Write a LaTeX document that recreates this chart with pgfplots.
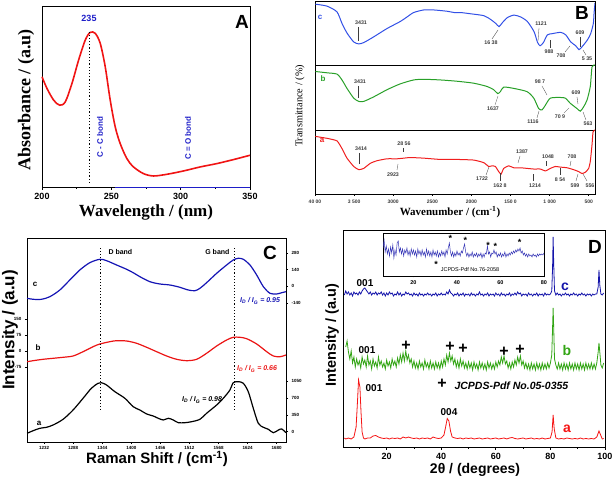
\documentclass[border=0pt]{standalone}
\usepackage{fontspec}
\setmainfont{Liberation Sans}
\newfontfamily\tnr{Liberation Serif}
\usepackage{pgfplots}
\pgfplotsset{compat=1.18}
\newcommand{\fs}[1]{\fontsize{#1}{#1}\selectfont}
\definecolor{uvred}{RGB}{240,20,20}
\definecolor{txtblue}{RGB}{30,30,200}
\definecolor{irblue}{RGB}{50,80,230}
\definecolor{irgreen}{RGB}{40,160,40}
\definecolor{irred}{RGB}{240,30,30}
\definecolor{rblue}{RGB}{20,20,180}
\definecolor{rred}{RGB}{235,20,20}
\definecolor{xblue}{RGB}{20,20,170}
\definecolor{xgreen}{RGB}{50,165,20}
\definecolor{xred}{RGB}{245,20,20}
\definecolor{lblgray}{RGB}{60,60,60}
\begin{document}
\begin{tikzpicture}[x=1pt,y=1pt]
\path[use as bounding box] (0,0) rectangle (614,479);
\pgfplotsset{every axis/.append style={scale only axis, anchor=south west, axis line style={line width=0.9pt}, tick style={line width=0.7pt, black}}}
\tikzset{bl/.style={font=\bfseries\fs{5.3}, text=lblgray, inner sep=0pt},
         ld/.style={lblgray, line width=0.3pt}}

% ================= Panel A =================
\begin{axis}[at={(42pt,292pt)}, width=208pt, height=181pt,
  xmin=200, xmax=350, ymin=0, ymax=542,
  xtick={200,250,300,350}, xticklabels={200,250,300,350},
  minor xtick={225,275,325}, ytick=\empty, xtick pos=bottom,
  tick align=outside, major tick length=3pt, minor tick length=2pt,
  xticklabel style={font=\bfseries\fs{9}}, clip=false]
\addplot[uvred, line width=1.6pt, smooth] coordinates {
(200,330) (203.6,295) (208.4,260) (212.7,245) (216.8,255) (221.6,310) (226.4,380) (231.2,440) (234.8,463) (238.4,460) (242,430) (245.6,360) (249.2,260) (252.8,180) (256.4,130) (261.2,85) (266,60) (273.2,40) (280.4,33) (290,38) (302,48) (314,60) (326,70) (338,82) (350,95)};
\draw[black, dotted, line width=1.2pt] (axis cs:234,12) -- (axis cs:234,463);
\draw[txtblue, line width=0.6pt] (axis cs:253,0) -- (axis cs:350,0);
\end{axis}
\node[txtblue, font=\bfseries\fs{9}] at (89,461) {235};
\node[txtblue, font=\bfseries\fs{8}, rotate=90] at (100,342) {C - C bond};
\node[txtblue, font=\bfseries\fs{8}, rotate=90] at (188,341) {C = O bond};
\node[font=\bfseries\fs{19}] at (242,457) {A};
\node[font=\tnr\bfseries\fs{17}, inner sep=0pt] at (146,267) {Wavelength / (nm)};
\node[font=\tnr\bfseries\fs{18}, rotate=90, inner sep=0pt] at (26,379) {Absorbance / (a.u)};

% ================= Panel B =================
\pgfplotsset{irax/.style={width=280pt, xmin=420, xmax=4000, x dir=reverse, ymin=0, ymax=100,
  xtick=\empty, ytick=\empty, axis line style={line width=0.8pt}}}
\begin{axis}[irax, at={(315pt,414pt)}, height=64pt]
\addplot[irblue, line width=1pt, smooth, tension=0.4] coordinates {
(3996,95) (3847,92) (3719,83) (3655,65) (3591,50) (3505,36) (3441,33) (3377,35) (3249,44) (3079,57) (2909,68) (2824,75) (2738,82) (2610,86) (2482,86) (2312,84) (2222,82) (2142,82) (2009,80) (1839,77) (1753,71) (1689,65) (1647,60) (1605,66) (1541,74) (1455,78) (1370,75) (1285,68) (1199,52) (1157,36) (1123,30) (1080,35) (1029,47) (965,49) (858,51) (794,47) (730,36) (666,30) (624,24) (582,29) (518,39) (475,49) (441,65) (432,81) (420,97)};
\end{axis}
\begin{axis}[irax, at={(315pt,349pt)}, height=65pt]
\addplot[irgreen, line width=1pt, smooth, tension=0.4] coordinates {
(3996,90) (3847,88) (3719,86) (3655,77) (3591,64) (3505,49) (3441,44) (3377,44) (3249,51) (3079,62) (2909,71) (2738,77) (2610,78) (2397,77) (2184,75) (1971,72) (1801,67) (1715,62) (1664,56) (1630,59) (1587,66) (1459,64) (1289,59) (1203,49) (1140,33) (1097,31) (1055,38) (991,49) (863,50) (799,49) (735,41) (650,33) (607,29) (564,36) (522,46) (480,67) (458,97) (420,100)};
\end{axis}
\begin{axis}[irax, at={(315pt,285pt)}, height=64pt,
  xtick={4000,3500,3000,2500,2000,1500,1000,500},
  xticklabels={40 00,3 500,3000,2500,2000,150 0,1 000,500},
  xtick pos=bottom, tick align=outside, major tick length=2pt,
  xticklabel style={font=\bfseries\fs{5}, text=lblgray}]
\addplot[irred, line width=1pt, smooth, tension=0.3] coordinates {
(3996,90) (3847,87) (3719,83) (3655,71) (3591,56) (3505,43) (3441,38) (3377,40) (3292,48) (3207,52) (3079,55) (2951,55) (2866,56) (2781,57) (2610,56) (2397,54) (2184,54) (1971,53) (1843,49) (1779,43) (1737,44) (1694,43) (1651,35) (1621,31) (1587,40) (1523,44) (1459,41) (1374,41) (1289,40) (1203,39) (1118,39) (1055,36) (991,40) (927,43) (863,42) (778,41) (693,38) (629,35) (586,32) (543,34) (501,40) (480,51) (458,77) (445,97) (420,100)};
\end{axis}
% labels c
\node[irblue, font=\bfseries\fs{8}] at (320,462) {c};
\node[bl] at (361,456) {3431}; \draw[ld] (358,452) -- (358,438);
\node[bl] at (491,436) {16 38}; \draw[ld] (492,440) -- (498,449);
\node[bl] at (541,455) {1121}; \draw[ld] (539,451) -- (538,438);
\node[bl] at (549,427) {988}; \draw[ld] (550,431) -- (550,439);
\node[bl] at (561,423) {708}; \draw[ld] (565,427) -- (570,433);
\node[bl] at (580,446) {609}; \draw[ld] (580,442) -- (580,432);
\node[bl] at (587,420) {5 35}; \draw[ld] (586,424) -- (583,429);
% labels b
\node[irgreen, font=\bfseries\fs{8}] at (323,400) {b};
\node[bl] at (360,397) {3431}; \draw[ld] (358,393) -- (358,381);
\node[bl] at (493,370) {1637}; \draw[ld] (495,374) -- (498,383);
\node[bl] at (540,397) {98 7}; \draw[ld] (542,393) -- (547,384);
\node[bl] at (533,357) {1116}; \draw[ld] (537,361) -- (539,368);
\node[bl] at (560,362) {70 9}; \draw[ld] (564,366) -- (569,371);
\node[bl] at (576,386) {609}; \draw[ld] (577,382) -- (578,375);
\node[bl] at (588,355) {563}; \draw[ld] (586,359) -- (583,367);
% labels a
\node[irred, font=\bfseries\fs{8}] at (322,339) {a};
\node[bl] at (361,330) {3414}; \draw[ld] (359,326) -- (359,315);
\node[bl] at (404,335) {28 56}; \draw[ld] (403,331) -- (403,327);
\node[bl] at (393,304) {2923}; \draw[ld] (397,309) -- (398,315);
\node[bl] at (482,300) {1722}; \draw[ld] (486,304) -- (489,312);
\node[bl] at (500,293) {162 8}; \draw[ld] (500,298) -- (500,306);
\node[bl] at (522,327) {1387}; \draw[ld] (520,323) -- (518,316);
\node[bl] at (535,293) {1214}; \draw[ld] (533,298) -- (533,305);
\node[bl] at (548,322) {1048}; \draw[ld] (546,318) -- (546,313);
\node[bl] at (560,299) {8 54}; \draw[ld] (560,304) -- (560,311);
\node[bl] at (572,322) {708}; \draw[ld] (571,318) -- (570,313);
\node[bl] at (575,293) {599}; \draw[ld] (576,298) -- (578,305);
\node[bl] at (590,293) {556}; \draw[ld] (587,298) -- (583,305);
\node[font=\bfseries\fs{19}] at (582,466) {B};
\node[font=\tnr\bfseries\fs{11}, inner sep=0pt] at (450,267) {Wavenumber / (cm\textsuperscript{-1})};
\node[font=\tnr\fs{10.3}, rotate=90, inner sep=0pt] at (300,373) {Transmittance / (\%)};

% ================= Panel C =================
\begin{axis}[at={(27pt,37pt)}, width=259pt, height=204pt,
  xmin=1199, xmax=1698, ymin=0, ymax=204,
  xtick={1232,1288,1344,1400,1456,1512,1568,1624,1680},
  xticklabels={1232,1288,1344,1400,1456,1512,1568,1624,1680},
  ytick={75,91,107,123}, yticklabels={-75,0,75,150},
  xtick pos=bottom, ytick pos=left, tick align=outside, major tick length=2pt,
  ticklabel style={font=\bfseries\fs{4.5}},
  xticklabel style={yshift=1.5pt}, clip=false]
\addplot[rblue, line width=1.2pt, smooth] coordinates {
(1199.2,143.7) (1210.8,142.7) (1227,142.7) (1243,145.3) (1262.3,152) (1281.5,162) (1300.8,172) (1320,179.3) (1339.4,182.7) (1352.3,181.3) (1371.6,177) (1390.9,172.7) (1403.6,169.3) (1416.5,165.3) (1435.8,160.3) (1455,158) (1474.3,157) (1493.6,154.7) (1509.6,152) (1522.5,151.3) (1532.2,153.7) (1545,159.3) (1564.4,168.7) (1583.6,177) (1596.4,182) (1606,183.7) (1615.7,182.7) (1628.6,177) (1641.5,167) (1654.4,155.3) (1667.1,148.7) (1680,148) (1689.7,149.3) (1698,150.3)};
\addplot[rred, line width=1.2pt, smooth] coordinates {
(1199.2,80.3) (1210.8,81.3) (1230,82.7) (1249.3,83.7) (1268.5,84.7) (1287.8,86) (1307,90.3) (1326.3,95.3) (1339.4,98) (1358.6,100.3) (1371.6,101.3) (1390.9,101) (1410.2,98.7) (1429.5,94.7) (1448.8,90.3) (1468,86) (1487.3,82.7) (1506.6,81.3) (1525.9,82.7) (1545,88.7) (1564.4,96) (1583.6,102) (1596.4,104.7) (1609.3,104.7) (1622.2,103.3) (1641.5,98) (1660.8,90.3) (1673.6,86) (1686.5,85.3) (1698,87)};
\addplot[black, line width=1.2pt, smooth] coordinates {
(1199.2,8.7) (1210.8,11.3) (1223.7,13.7) (1236.6,14.7) (1249.3,17) (1268.5,22.7) (1287.8,32) (1307,43.7) (1323,53.7) (1336,58.7) (1342.4,59.3) (1352.3,57) (1368.3,50.3) (1387.6,43.7) (1403.6,35.3) (1416.5,32) (1429.5,28) (1442.2,26) (1451.9,23.7) (1461.5,22) (1471.2,23.7) (1480.8,22) (1490.5,19.3) (1503.3,19.3) (1516.2,20.3) (1532.2,22.7) (1545,28.7) (1564.4,37) (1577.2,43.7) (1590,52) (1596.4,59.3) (1606,60.3) (1615.7,58.7) (1625.3,50.3) (1635,33.7) (1644.6,18.7) (1654.4,14.7) (1664,12.7) (1673.6,9.3) (1683.4,12) (1689.7,13) (1698,9.3)};
\draw[black, dotted, line width=1.1pt] (axis cs:1341,32) -- (axis cs:1341,196);
\draw[black, dotted, line width=1.1pt] (axis cs:1599,32) -- (axis cs:1599,196);
\end{axis}
\begin{axis}[at={(27pt,37pt)}, width=259pt, height=204pt,
  xmin=1199, xmax=1698, ymin=0, ymax=204,
  axis x line=none, axis y line*=right,
  ytick={10.3,27,43.7,61,138.9,155.6,172.3,189},
  yticklabels={0,350,700,1050,-140,0,140,280},
  tick align=outside, major tick length=2pt,
  ticklabel style={font=\bfseries\fs{4.5}}]
\addplot[draw=none] coordinates {(1300,100)};
\end{axis}
\node[font=\bfseries\fs{7}, anchor=west] at (105,227) {D band};
\node[font=\bfseries\fs{7}, anchor=east] at (233,227) {G band};
\node[font=\bfseries\fs{8}] at (35,195) {c};
\node[font=\bfseries\fs{8}] at (38,131) {b};
\node[font=\bfseries\fs{8}] at (39,56) {a};
\node[rblue, font=\bfseries\itshape\fs{7}] at (260,178) {I\textsubscript{D} / I\textsubscript{G} = 0.95};
\node[rred, font=\bfseries\itshape\fs{7}] at (257,110) {I\textsubscript{D} / I\textsubscript{G} = 0.66};
\node[font=\bfseries\itshape\fs{7}] at (202,79) {I\textsubscript{D} / I\textsubscript{G} = 0.98};
\node[font=\bfseries\fs{19}] at (270,226) {C};
\node[font=\bfseries\fs{15}, inner sep=0pt] at (157,20) {Raman Shift / (cm\textsuperscript{-1})};
\node[font=\bfseries\fs{17}, rotate=90, inner sep=0pt] at (10,149) {Intensity / (a.u)};

% ================= Panel D =================
\begin{axis}[at={(343pt,32pt)}, width=262pt, height=217pt,
  xmin=4, xmax=100, ymin=0, ymax=217,
  xtick={20,40,60,80,100}, xticklabels={20,40,60,80,100},
  minor xtick={10,30,50,70,90}, ytick=\empty, xtick pos=bottom,
  tick align=outside, major tick length=3pt, minor tick length=2pt,
  xticklabel style={font=\bfseries\fs{9}}]
\addplot[xred, line width=0.8pt] coordinates {
(4.5,9) (5,8) (6,9) (7,8) (8,10) (8.8,20) (9.3,45) (9.7,67) (10.2,60) (10.6,35) (11,15) (11.5,9) (12,8) (13,9) (14,9) (15,11) (16,11.5) (17,10) (18,9) (19,8.5) (20,9) (21,8) (22,9) (23,8.5) (24,9) (25,8) (26,10) (27,9) (28,10) (29,9) (30,8.5) (31,9) (32,8) (33,9) (34,8.5) (35,9) (36,8) (37,10) (38,9) (39,8.5) (40,9) (41,12) (41.6,20) (42.2,28.5) (42.8,26) (43.4,16) (44,10) (45,9) (46,8.5) (47,9) (48,8) (49,9) (50,8.5) (51,9) (52,8) (53,8.5) (54,9) (55,8) (56,8.5) (57,9) (58,8) (59,8.5) (60,9) (61,8) (62,8.5) (63,9) (64,8) (65,9) (66,9.5) (67,8.5) (68,8) (69,8.5) (70,9) (71,8) (72,8.5) (73,9) (74,8) (75,8.5) (76,8) (77,9) (78,8) (79,8.5) (80,9) (80.6,15) (81,32) (81.4,18) (82,9) (83,8) (84,8.5) (85,8) (86,9) (87,8.5) (88,8) (89,8.5) (90,8) (91,9) (92,8) (93,8.5) (94,8) (95,8.5) (96,8) (97,10) (97.8,16) (98.4,12) (99,8) (99.5,8.5)};
\addplot[xgreen, line width=0.8pt] coordinates {
(5,100) (5.5,106) (6,95) (6.5,88) (7,96) (7.5,84) (8,90) (8.5,80) (9,88) (9.5,82) (10,86) (10.5,79) (11,90) (11.5,83) (12,87) (12.5,80) (13,91) (13.5,82) (14,86) (14.5,78) (15,88) (15.5,81) (16,85) (16.5,79) (17,90) (17.5,82) (18,86) (18.5,80) (19,84) (19.5,78) (20,87) (20.5,81) (21,85) (21.5,79) (22,88) (22.5,82) (23,86) (23.5,80) (24,89) (24.5,83) (25,92) (25.5,85) (26,94) (26.5,86) (27,96) (27.5,87) (28,92) (28.5,84) (29,88) (29.5,80) (30,86) (30.5,79) (31,84) (31.5,78) (32,86) (32.5,80) (33,84) (33.5,78) (34,87) (34.5,80) (35,84) (35.5,78) (36,86) (36.5,79) (37,84) (37.5,78) (38,85) (38.5,79) (39,84) (39.5,78) (40,86) (40.5,80) (41,88) (41.5,82) (42,92) (42.5,85) (43,94) (43.5,86) (44,91) (44.5,83) (45,88) (45.5,80) (46,86) (46.5,79) (47,88) (47.5,81) (48,86) (48.5,79) (49,84) (49.5,78) (50,85) (50.5,79) (51,84) (51.5,77) (52,85) (52.5,79) (53,83) (53.5,77) (54,85) (54.5,79) (55,84) (55.5,78) (56,83) (56.5,77) (57,85) (57.5,79) (58,84) (58.5,78) (59,83) (59.5,78) (60,85) (60.5,80) (61,86) (61.5,82) (62,90) (62.5,84) (63,91) (63.5,83) (64,86) (64.5,79) (65,84) (65.5,78) (66,85) (66.5,80) (67,87) (67.5,82) (68,90) (68.5,84) (69,91) (69.5,82) (70,86) (70.5,79) (71,84) (71.5,78) (72,83) (72.5,77) (73,84) (73.5,78) (74,83) (74.5,77) (75,84) (75.5,78) (76,83) (76.5,77) (77,84) (77.5,78) (78,83) (78.5,78) (79,84) (79.5,79) (80,84) (80.5,92) (80.8,120) (81,139) (81.2,120) (81.5,88) (82,82) (82.5,78) (83,84) (83.5,78) (84,83) (84.5,77) (85,84) (85.5,78) (86,83) (86.5,77) (87,84) (87.5,78) (88,83) (88.5,77) (89,84) (89.5,78) (90,83) (90.5,77) (91,84) (91.5,78) (92,83) (92.5,77) (93,84) (93.5,78) (94,83) (94.5,78) (95,84) (95.5,78) (96,83) (96.5,78) (97,84) (97.5,95) (97.8,104) (98.1,95) (98.5,82) (99,79) (99.5,84)};
\addplot[xblue, line width=0.8pt] coordinates {
(4.5,152) (5,156) (5.5,153) (6,155) (6.5,152) (7,154) (7.5,151) (8,155) (8.5,153) (9,154) (9.5,152) (10,155) (10.5,153) (11,156) (11.5,158) (12,159) (12.5,157) (13,155) (13.5,153) (14,155) (14.5,152) (15,154) (15.5,153) (16,155) (16.5,152) (17,154) (17.5,153) (18,155) (18.5,152) (19,154) (19.5,151) (20,154) (20.5,152) (21,155) (21.5,153) (22,154) (22.5,151) (23,153) (23.5,152) (24,155) (24.5,152) (25,154) (25.5,151) (26,153) (26.5,152) (27,155) (27.5,153) (28,154) (28.5,152) (29,153) (29.5,151) (30,154) (30.5,152) (31,153) (31.5,151) (32,154) (32.5,152) (33,153) (33.5,151) (34,153) (34.5,152) (35,154) (35.5,152) (36,153) (36.5,151) (37,153) (37.5,152) (38,154) (38.5,151) (39,153) (39.5,152) (40,154) (40.5,152) (41,153) (41.5,152) (42,155) (42.5,153) (43,157) (43.5,154) (44,153) (44.5,151) (45,153) (45.5,152) (46,154) (46.5,151) (47,153) (47.5,152) (48,154) (48.5,151) (49,153) (49.5,152) (50,153) (50.5,151) (51,154) (51.5,152) (52,153) (52.5,151) (53,153) (53.5,152) (54,155) (54.5,152) (55,153) (55.5,151) (56,153) (56.5,152) (57,154) (57.5,151) (58,153) (58.5,152) (59,153) (59.5,151) (60,154) (60.5,152) (61,153) (61.5,151) (62,154) (62.5,152) (63,153) (63.5,151) (64,153) (64.5,152) (65,154) (65.5,151) (66,153) (66.5,152) (67,154) (67.5,152) (68,155) (68.5,153) (69,154) (69.5,151) (70,153) (70.5,152) (71,153) (71.5,151) (72,154) (72.5,152) (73,153) (73.5,151) (74,153) (74.5,152) (75,154) (75.5,151) (76,153) (76.5,152) (77,153) (77.5,151) (78,154) (78.5,152) (79,153) (79.5,152) (80,153) (80.5,156) (80.8,180) (81,210) (81.2,185) (81.5,156) (82,152) (82.5,154) (83,152) (83.5,153) (84,151) (84.5,153) (85,152) (85.5,154) (86,152) (86.5,153) (87,151) (87.5,153) (88,152) (88.5,154) (89,152) (89.5,153) (90,151) (90.5,153) (91,152) (91.5,154) (92,152) (92.5,153) (93,151) (93.5,153) (94,152) (94.5,153) (95,151) (95.5,153) (96,152) (96.5,153) (97,153) (97.5,160) (97.8,177) (98.1,162) (98.5,153) (99,152) (99.5,154)};
\end{axis}
% inset
\begin{axis}[at={(383pt,203pt)}, width=161pt, height=43pt,
  xmin=6, xmax=80, ymin=0, ymax=43,
  xtick={20,40,60,80}, xticklabels={20,40,60,80}, ytick=\empty,
  xtick pos=bottom, tick align=outside, major tick length=1.5pt,
  axis line style={line width=0.8pt},
  xticklabel style={font=\bfseries\fs{5.5}},
  axis background/.style={fill=white}]
\addplot[xblue!85!white, line width=0.5pt] coordinates {
(6,28) (6.5,36) (7,24) (7.5,30) (8,22) (8.5,27) (9,20) (9.5,29) (10,23) (10.5,31) (11,18) (11.5,26) (12,21) (12.5,33) (13,35) (13.5,24) (14,28) (14.5,22) (15,27) (15.5,20) (16,26) (16.5,23) (17,28) (17.5,21) (18,25) (18.5,20) (19,27) (19.5,22) (20,26) (20.5,21) (21,25) (21.5,19) (22,27) (22.5,22) (23,25) (23.5,20) (24,26) (24.5,21) (25,24) (25.5,19) (26,27) (26.5,21) (27,25) (27.5,20) (28,24) (28.5,19) (29,26) (29.5,21) (30,24) (30.5,20) (31,25) (31.5,19) (32,23) (32.5,20) (33,25) (33.5,21) (34,24) (34.5,19) (35,26) (35.5,22) (36,28) (36.5,33) (37,24) (37.5,20) (38,24) (38.5,19) (39,23) (39.5,20) (40,25) (40.5,21) (41,23) (41.5,20) (42,25) (42.5,23) (43,28) (43.5,32) (44,24) (44.5,20) (45,23) (45.5,19) (46,22) (46.5,20) (47,24) (47.5,19) (48,22) (48.5,20) (49,23) (49.5,19) (50,22) (50.5,20) (51,23) (51.5,18) (52,22) (52.5,19) (53,23) (53.5,22) (54,30) (54.5,22) (55,24) (55.5,19) (56,23) (56.5,22) (57,26) (57.5,22) (58,24) (58.5,19) (59,22) (59.5,20) (60,23) (60.5,19) (61,22) (61.5,20) (62,24) (62.5,19) (63,22) (63.5,20) (64,23) (64.5,21) (65,24) (65.5,22) (66,25) (66.5,23) (67,26) (67.5,24) (68,27) (68.5,25) (69,28) (69.5,23) (70,25) (70.5,21) (71,23) (71.5,20) (72,22) (72.5,19) (73,22) (73.5,20) (74,21) (74.5,19) (75,22) (75.5,20) (76,21) (76.5,19) (77,22) (77.5,20) (78,22) (78.5,21) (79,22) (79.5,21) (80,23)};
\end{axis}
\foreach \sx/\sy in {450.4/240.7, 465.4/239, 488.1/234, 495.3/232.3, 519.7/236.3}
  \node[font=\bfseries\fs{9}, inner sep=0pt] at (\sx,\sy) {*};
\node[font=\bfseries\fs{9}, inner sep=0pt] at (436,215) {*};
\node[font=\fs{5.5}] at (470,209) {JCPDS-Pdf No.76-2058};
\node[font=\bfseries\fs{10}] at (365,196) {001};
\node[xblue, font=\bfseries\fs{14}] at (565,192) {c};
\node[font=\bfseries\fs{10}] at (367,129) {001};
\node[xgreen, font=\bfseries\fs{14}] at (567,129) {b};
\foreach \px/\py in {406/133, 450/132, 463/130, 504/127, 520/129}
  \node[font=\bfseries\fs{16}, inner sep=0pt] at (\px,\py) {+};
\node[font=\bfseries\fs{16}, inner sep=0pt] at (442,95) {+};
\node[font=\bfseries\itshape\fs{10.5}, anchor=west] at (451,93) {JCPDS-Pdf No.05-0355};
\node[font=\bfseries\fs{10}] at (374,91) {001};
\node[font=\bfseries\fs{10}] at (449,67) {004};
\node[xred, font=\bfseries\fs{14}] at (567,50) {a};
\node[font=\bfseries\fs{19}] at (595,232) {D};
\node[font=\bfseries\fs{14}, inner sep=0pt] at (475,9) {2θ / (degrees)};
\node[font=\bfseries\fs{14.5}, rotate=90, inner sep=0pt] at (332,144) {Intensity / (a.u)};
\end{tikzpicture}
\end{document}
